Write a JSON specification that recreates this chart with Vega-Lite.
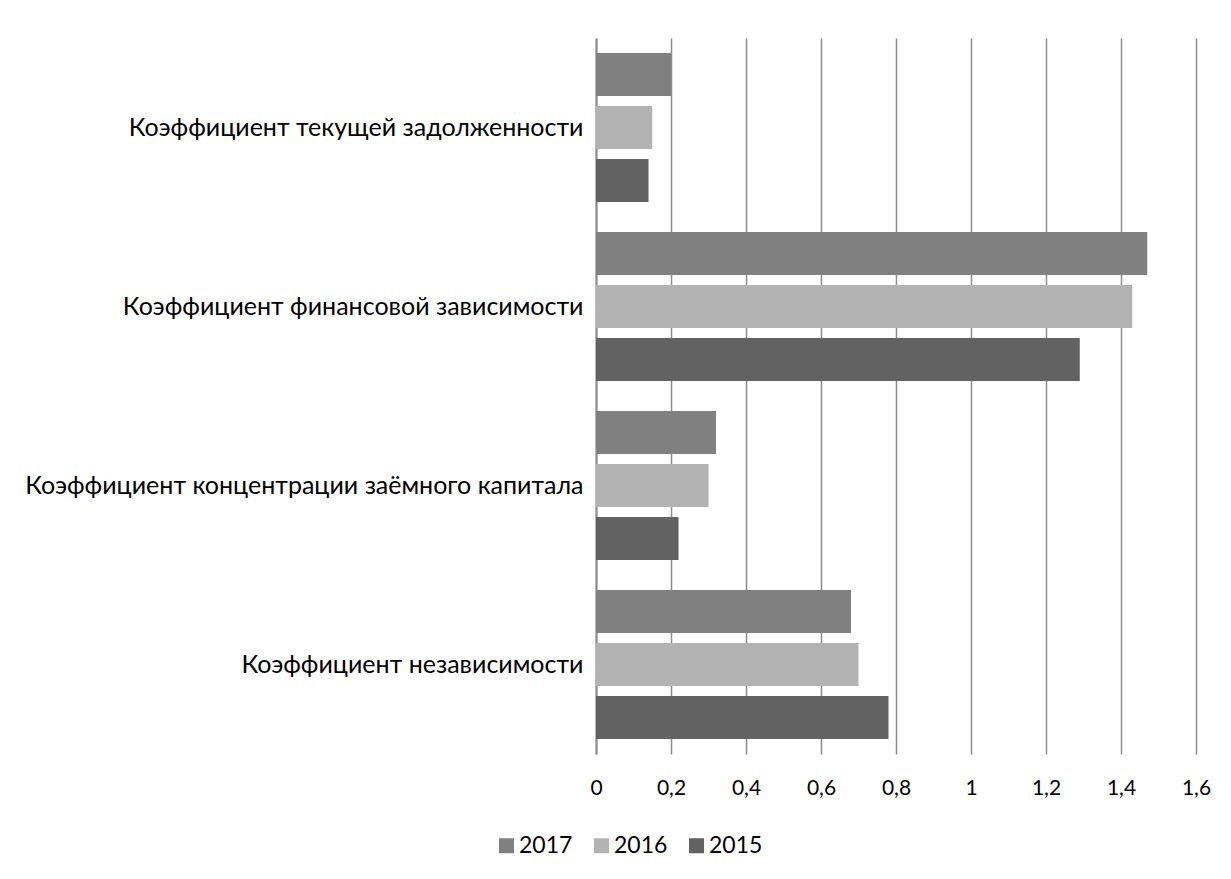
{
  "$schema": "https://vega.github.io/schema/vega-lite/v6.json",
  "autosize": "none",
  "width": 600,
  "height": 716,
  "padding": {"left": 596, "top": 38, "right": 35, "bottom": 125},
  "background": "white",
  "config": {
    "font": "Lato",
    "view": {"stroke": null},
    "axis": {"labelFont": "Lato", "labelColor": "#000000", "labelFontSize": 21, "labelLimit": 0}
  },
  "data": {
    "values": [
      {"k": "Коэффициент текущей задолженности", "year": "2017", "v": 0.2},
      {"k": "Коэффициент текущей задолженности", "year": "2016", "v": 0.15},
      {"k": "Коэффициент текущей задолженности", "year": "2015", "v": 0.14},
      {"k": "Коэффициент финансовой зависимости", "year": "2017", "v": 1.47},
      {"k": "Коэффициент финансовой зависимости", "year": "2016", "v": 1.43},
      {"k": "Коэффициент финансовой зависимости", "year": "2015", "v": 1.29},
      {"k": "Коэффициент концентрации заёмного капитала", "year": "2017", "v": 0.32},
      {"k": "Коэффициент концентрации заёмного капитала", "year": "2016", "v": 0.3},
      {"k": "Коэффициент концентрации заёмного капитала", "year": "2015", "v": 0.22},
      {"k": "Коэффициент независимости", "year": "2017", "v": 0.68},
      {"k": "Коэффициент независимости", "year": "2016", "v": 0.7},
      {"k": "Коэффициент независимости", "year": "2015", "v": 0.78}
    ]
  },
  "mark": {"type": "bar"},
  "encoding": {
    "y": {
      "field": "k", "type": "nominal", "title": null,
      "sort": ["Коэффициент текущей задолженности", "Коэффициент финансовой зависимости", "Коэффициент концентрации заёмного капитала", "Коэффициент независимости"],
      "scale": {"paddingInner": 0.168, "paddingOuter": 0.084},
      "axis": {"ticks": false, "domain": true, "domainColor": "#8c8c8c", "domainWidth": 2, "labelPadding": 13, "labelFontSize": 25, "grid": false}
    },
    "yOffset": {
      "field": "year", "type": "nominal", "sort": ["2017", "2016", "2015"],
      "scale": {"paddingInner": 0.19}
    },
    "x": {
      "field": "v", "type": "quantitative", "title": null,
      "scale": {"domain": [0, 1.6], "nice": false},
      "axis": {"values": [0, 0.2, 0.4, 0.6, 0.8, 1, 1.2, 1.4, 1.6], "format": ",.1~f", "labelExpr": "replace(datum.label, '.', ',')", "ticks": false, "domain": false, "grid": true, "gridColor": "#8c8c8c", "gridWidth": 1.5, "labelPadding": 23, "labelFlush": false}
    },
    "color": {
      "field": "year", "type": "nominal", "sort": ["2017", "2016", "2015"],
      "scale": {"domain": ["2017", "2016", "2015"], "range": ["#808080", "#b3b3b3", "#626262"]},
      "legend": {"title": null, "orient": "none", "direction": "horizontal", "legendX": -101, "legendY": 796, "symbolType": "square", "symbolSize": 225, "symbolStrokeWidth": 0, "symbolOpacity": 1, "labelFontSize": 23, "labelColor": "#000000", "labelFont": "Lato", "columnPadding": 17, "labelOffset": 1}
    }
  }
}
